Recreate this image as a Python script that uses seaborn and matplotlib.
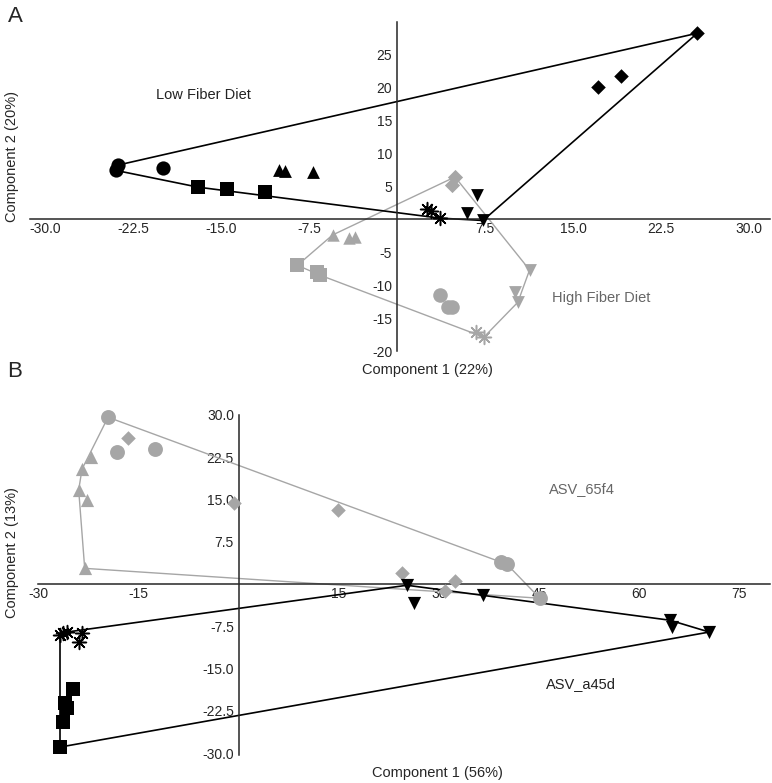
import numpy as np
import pandas as pd
import matplotlib
matplotlib.use("Agg")
import matplotlib.pyplot as plt
import seaborn as sns

# ---- Panel A data (Component 1, Component 2) ----
a_low_circles = [(-23.8, 8.2), (-24.0, 7.4), (-19.95, 7.7)]
a_low_squares = [(-16.96, 4.85), (-14.5, 4.5), (-11.25, 4.1)]
a_low_triangles = [(-10.1, 7.4), (-9.6, 7.3), (-7.2, 7.1)]
a_low_stars = [(2.56, 1.5), (2.9, 1.2), (3.67, 0.15)]
a_low_down = [(6.8, 3.6), (6.0, 0.9), (7.33, -0.2)]
a_low_diamonds = [(25.6, 28.2), (17.1, 20.0), (19.1, 21.7)]

a_high_circles = [(3.67, -11.5), (4.3, -13.3), (4.7, -13.3)]
a_high_squares = [(-8.5, -7.0), (-6.8, -8.0), (-6.56, -8.5)]
a_high_triangles = [(-5.5, -2.4), (-4.1, -2.9), (-3.6, -2.7)]
a_high_stars = [(6.73, -17.1), (7.4, -17.9)]
a_high_down = [(11.3, -7.7), (10.06, -11.1), (10.3, -12.6)]
a_high_diamonds = [(4.94, 6.4), (4.69, 5.15)]

# ---- Panel B data ----
b_a45d_stars = [(-26.4, -8.7), (-25.8, -8.5), (-23.5, -8.7), (-24.0, -10.3), (-26.8, -9.0)]
b_a45d_squares = [(-24.9, -18.6), (-26.1, -21.1), (-25.8, -22.0), (-26.4, -24.5), (-26.8, -28.9)]
b_a45d_down = [(25.2, -0.2), (26.2, -3.4), (36.6, -2.0), (64.6, -6.4), (64.9, -7.6), (70.5, -8.5)]

b_65f4_circles = [(-19.6, 29.6), (-18.3, 23.4), (-12.6, 23.9), (39.3, 3.9), (40.2, 3.5), (45.1, -2.5)]
b_65f4_diamonds = [(-16.6, 25.9), (-0.7, 14.4), (14.9, 13.1), (24.4, 2.0), (32.4, 0.5), (30.9, -1.3)]
b_65f4_triangles = [(-22.1, 22.5), (-23.5, 20.4), (-24.0, 16.7), (-22.8, 14.9), (-23.1, 2.8)]

a_xticks = [-30.0, -22.5, -15.0, -7.5, 7.5, 15.0, 22.5, 30.0]
a_yticks = [-20, -15, -10, -5, 5, 10, 15, 20, 25]
b_xticks = [-30, -15, 15, 30, 45, 60, 75]
b_yticks = [-30.0, -22.5, -15.0, -7.5, 7.5, 15.0, 22.5, 30.0]

BLACK = "#000000"
GRAY = "#a6a6a6"
ASTER = (8, 2, 0)


def convex_hull(groups):
    pts = sorted(set(p for g in groups for p in g))

    def cross(o, a, b):
        return (a[0] - o[0]) * (b[1] - o[1]) - (a[1] - o[1]) * (b[0] - o[0])

    lower, upper = [], []
    for p in pts:
        while len(lower) >= 2 and cross(lower[-2], lower[-1], p) <= 0:
            lower.pop()
        lower.append(p)
    for p in reversed(pts):
        while len(upper) >= 2 and cross(upper[-2], upper[-1], p) <= 0:
            upper.pop()
        upper.append(p)
    h = lower[:-1] + upper[:-1]
    h.append(h[0])
    return pd.DataFrame(h, columns=["x", "y"])


def draw_group(ax, pts, marker, color, size):
    df = pd.DataFrame(pts, columns=["x", "y"])
    lw = 1.1 if marker == ASTER else 0
    sns.scatterplot(data=df, x="x", y="y", marker=marker, color=color,
                    s=size, linewidth=lw, ax=ax, zorder=3, clip_on=False)


def draw_hull(ax, groups, color, lw):
    h = convex_hull(groups)
    sns.lineplot(data=h, x="x", y="y", sort=False, estimator=None,
                 color=color, lw=lw, ax=ax, zorder=2)


def cross_axes(ax, xlim, ylim, xticks, yticks, xfmt, yfmt):
    ax.set_xlim(*xlim)
    ax.set_ylim(*ylim)
    for s in ["top", "right"]:
        ax.spines[s].set_visible(False)
    ax.spines["left"].set_position(("data", 0))
    ax.spines["bottom"].set_position(("data", 0))
    ax.spines["left"].set_linewidth(1.1)
    ax.spines["bottom"].set_linewidth(1.1)
    ax.set_xticks(xticks)
    ax.set_xticklabels([xfmt.format(t) for t in xticks])
    ax.set_yticks(yticks)
    ax.set_yticklabels([yfmt.format(t) for t in yticks])
    ax.tick_params(axis="x", length=0, pad=2, labelsize=10)
    ax.tick_params(axis="y", length=3, width=0.8, pad=0.5, labelsize=10)
    ax.set_xlabel("")
    ax.set_ylabel("")
    ax.grid(False)


sns.set_style("white")
plt.rcParams["font.family"] = ["Liberation Sans", "DejaVu Sans"]

fig = plt.figure(figsize=(7.72, 7.83), dpi=100)

# ---------------- Panel A ----------------
axA = fig.add_axes([0.0389, 0.5517, 0.9585, 0.4202])
draw_hull(axA, [a_high_circles, a_high_squares, a_high_triangles,
                a_high_stars, a_high_down, a_high_diamonds], GRAY, 1.0)
draw_hull(axA, [a_low_circles, a_low_squares, a_low_triangles,
                a_low_stars, a_low_down, a_low_diamonds], BLACK, 1.2)

draw_group(axA, a_low_circles, "o", BLACK, 105)
draw_group(axA, a_low_squares, "s", BLACK, 95)
draw_group(axA, a_low_triangles, "^", BLACK, 85)
draw_group(axA, a_low_stars, ASTER, BLACK, 100)
draw_group(axA, a_low_down, "v", BLACK, 85)
draw_group(axA, a_low_diamonds, "D", BLACK, 55)

draw_group(axA, a_high_circles, "o", GRAY, 110)
draw_group(axA, a_high_squares, "s", GRAY, 95)
draw_group(axA, a_high_triangles, "^", GRAY, 80)
draw_group(axA, a_high_stars, ASTER, GRAY, 100)
draw_group(axA, a_high_down, "v", GRAY, 85)
draw_group(axA, a_high_diamonds, "D", GRAY, 60)

cross_axes(axA, (-31.3, 31.8), (-20, 29.9), a_xticks, a_yticks, "{:.1f}", "{:d}")
axA.text(-16.5, 18.9, "Low Fiber Diet", color="#222222", fontsize=10.5,
         ha="center", va="center")
axA.text(17.4, -12.0, "High Fiber Diet", color="#666666", fontsize=10.5,
         ha="center", va="center")

# ---------------- Panel B ----------------
axB = fig.add_axes([0.0492, 0.0358, 0.9482, 0.4342])
draw_hull(axB, [b_65f4_circles, b_65f4_diamonds, b_65f4_triangles], GRAY, 1.0)
draw_hull(axB, [b_a45d_stars, b_a45d_squares, b_a45d_down], BLACK, 1.2)

draw_group(axB, b_65f4_circles, "o", GRAY, 115)
draw_group(axB, b_65f4_diamonds, "D", GRAY, 55)
draw_group(axB, b_65f4_triangles, "^", GRAY, 90)

draw_group(axB, b_a45d_stars, ASTER, BLACK, 100)
draw_group(axB, b_a45d_squares, "s", BLACK, 105)
draw_group(axB, b_a45d_down, "v", BLACK, 90)

cross_axes(axB, (-30.1, 79.6), (-30.3, 30.0), b_xticks, b_yticks, "{:d}", "{:.1f}")
axB.text(51.4, 16.8, "ASV_65f4", color="#666666", fontsize=10.5,
         ha="center", va="center")
axB.text(51.3, -17.7, "ASV_a45d", color="#222222", fontsize=10.5,
         ha="center", va="center")

# ---- axis titles and panel letters ----
fig.text(427 / 772, 1 - 370 / 783, "Component 1 (22%)", fontsize=10.5,
         ha="center", va="center")
fig.text(12 / 772, 1 - 156 / 783, "Component 2 (20%)", fontsize=10.5,
         ha="center", va="center", rotation=90)
fig.text(437 / 772, 1 - 773 / 783, "Component 1 (56%)", fontsize=10.5,
         ha="center", va="center")
fig.text(12 / 772, 1 - 553 / 783, "Component 2 (13%)", fontsize=10.5,
         ha="center", va="center", rotation=90)
fig.text(15 / 772, 1 - 16 / 783, "A", fontsize=16, ha="center", va="center")
fig.text(15 / 772, 1 - 371 / 783, "B", fontsize=16, ha="center", va="center")

fig.savefig("out.png", dpi=100)
plt.close(fig)
